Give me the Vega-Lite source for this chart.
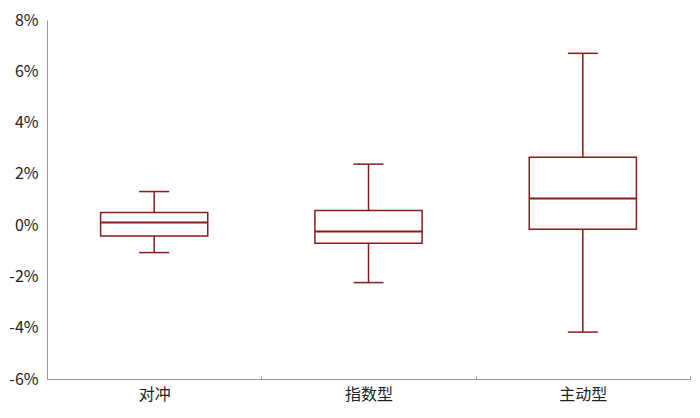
{
  "$schema": "https://vega.github.io/schema/vega-lite/v6.json",
  "width": 643,
  "height": 359,
  "autosize": "none",
  "padding": {"left": 47, "top": 20, "right": 10, "bottom": 39},
  "background": "white",
  "config": {
    "view": {"stroke": null},
    "font": "Noto Sans CJK SC",
    "axis": {"grid": false, "domainColor": "#999999", "labelColor": "#222222", "labelFont": "Noto Sans CJK SC"}
  },
  "data": {
    "values": [
      {"type": "对冲", "lower": -0.0107, "q1": -0.0042, "median": 0.0010, "q3": 0.0049, "upper": 0.0131},
      {"type": "指数型", "lower": -0.0224, "q1": -0.0071, "median": -0.0025, "q3": 0.0057, "upper": 0.0238},
      {"type": "主动型", "lower": -0.0417, "q1": -0.0016, "median": 0.0104, "q3": 0.0265, "upper": 0.0670}
    ]
  },
  "encoding": {
    "x": {
      "field": "type",
      "type": "nominal",
      "sort": null,
      "title": null,
      "scale": {"paddingInner": 0, "paddingOuter": 0},
      "axis": {"labelAngle": 0, "labelFontSize": 16, "labelPadding": 10, "tickSize": -3, "tickBand": "extent", "tickColor": "#999999"}
    }
  },
  "layer": [
    {
      "mark": {"type": "rule", "color": "#8B1A1A", "strokeWidth": 1.5},
      "encoding": {
        "y": {
          "field": "lower",
          "type": "quantitative",
          "title": null,
          "scale": {"domain": [-0.06, 0.08], "nice": false},
          "axis": {
            "values": [-0.06, -0.04, -0.02, 0, 0.02, 0.04, 0.06, 0.08],
            "labelExpr": "(datum.value < 0 ? '-' : '') + format(abs(datum.value) * 100, '.0f') + '%'",
            "labelFontSize": 16,
            "ticks": false,
            "labelPadding": 9
          }
        },
        "y2": {"field": "upper"}
      }
    },
    {
      "mark": {"type": "bar", "fill": "white", "stroke": "#8B1A1A", "strokeWidth": 1.5, "width": {"band": 0.5}},
      "encoding": {
        "y": {"field": "q1", "type": "quantitative"},
        "y2": {"field": "q3"}
      }
    },
    {
      "mark": {"type": "tick", "color": "#8B1A1A", "opacity": 1, "thickness": 2, "width": {"band": 0.5}},
      "encoding": {
        "y": {"field": "median", "type": "quantitative"}
      }
    },
    {
      "mark": {"type": "tick", "color": "#8B1A1A", "opacity": 1, "thickness": 1.5, "size": 30},
      "encoding": {
        "y": {"field": "upper", "type": "quantitative"}
      }
    },
    {
      "mark": {"type": "tick", "color": "#8B1A1A", "opacity": 1, "thickness": 1.5, "size": 30},
      "encoding": {
        "y": {"field": "lower", "type": "quantitative"}
      }
    }
  ]
}
